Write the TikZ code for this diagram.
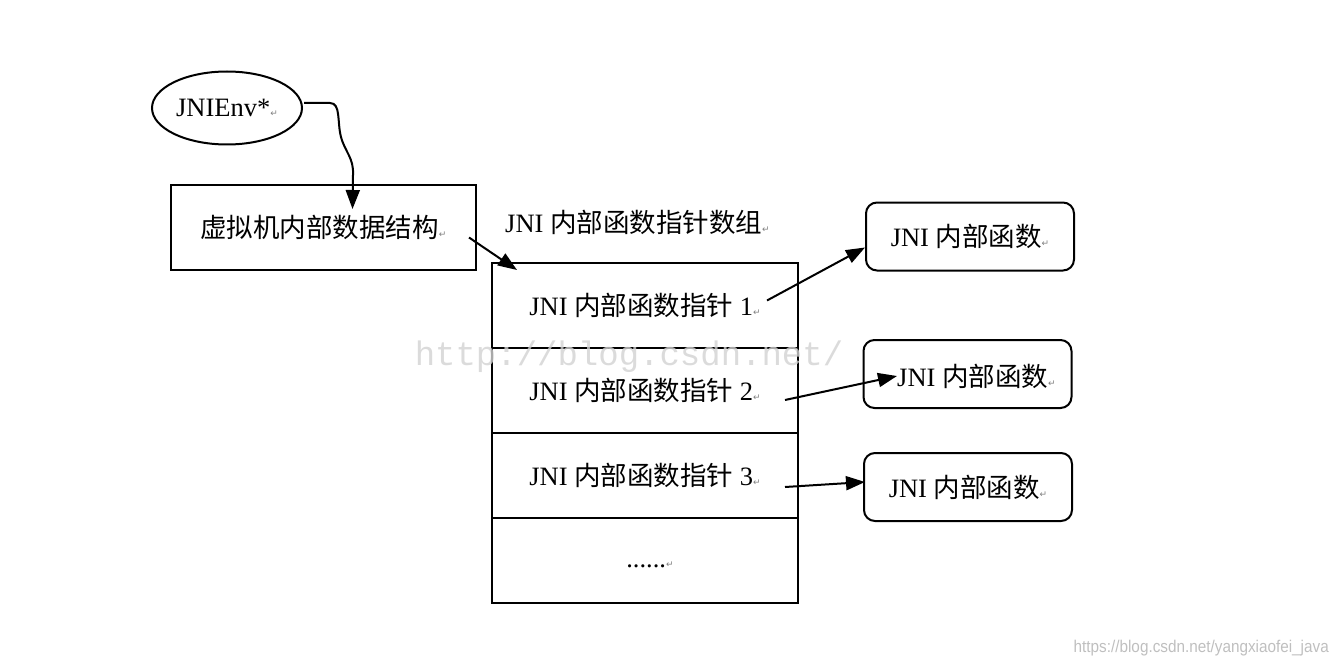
\documentclass[tikz,border=0pt]{standalone}
\usepackage{fontspec}
\setmainfont{Liberation Serif}
\newfontfamily\cjk{Noto Sans CJK SC}
\newfontfamily\symf{DejaVu Sans}
\newfontfamily\wmmono{Liberation Mono}
\newfontfamily\wmsans{Liberation Sans}
\usetikzlibrary{shapes.geometric,arrows.meta}
\newcommand{\zh}[1]{{\cjk #1}}
\newcommand{\rmark}{{\symf\fontsize{9}{9}\selectfont\color{gray}↵}}
\begin{document}
\begin{tikzpicture}[x=1pt,y=-1pt,
  every node/.style={font=\fontsize{26.5}{30}\selectfont},
  box/.style={draw, line width=2pt, inner sep=0pt},
  rowbox/.style={box, minimum width=306pt, minimum height=85pt},
  fnbox/.style={box, rounded corners=11pt, minimum width=208pt, minimum height=68pt},
  tip/.style={-{Triangle[length=19pt,width=14pt]}, line width=2pt}]
\useasboundingbox (0,0) rectangle (1342,666);

\node[ellipse, box, minimum width=150pt, minimum height=73pt] (env) at (227,108) {JNIEnv*\rmark};
\node[box, minimum width=305pt, minimum height=85pt] (vm) at (323.5,227.5) {\zh{虚拟机内部数据结构}\rmark};

\node[anchor=west, inner sep=0pt] (arrlabel) at (505,222) {JNI \zh{内部函数指针数组}\rmark};

\node[rowbox] (r1) at (645,305.5) {JNI \zh{内部函数指针} 1\rmark};
\node[rowbox] (r2) at (645,390.5) {JNI \zh{内部函数指针} 2\rmark};
\node[rowbox] (r3) at (645,475.5) {JNI \zh{内部函数指针} 3\rmark};
\node[rowbox] (r4) at (645,560.5) {};
\node (dots) at (650,565) {......\rmark};

\node[fnbox] (fA) at (970,236.5) {JNI \zh{内部函数}\rmark};
\node[fnbox] (fB) at (967.5,374) {};
\node[anchor=west, inner sep=0pt] (fBt) at (897,376) {JNI \zh{内部函数}\rmark};
\node[fnbox] (fC) at (968,487) {JNI \zh{内部函数}\rmark};

% connectors
\draw[tip] ([shift={(1,-5)}]env.east) -- (330,103)
  .. controls (341,103) and (337,122) .. (341,137)
  .. controls (345,152) and (354,158) .. (353,175)
  -- ([shift={(29,25)}]vm.north);
\draw[tip] ([shift={(-8,10)}]vm.east) -- ([shift={(26,8)}]r1.north west);
\draw[tip] ([shift={(122,-5)}]r1.center) -- ([shift={(0,11)}]fA.west);
\draw[tip] ([shift={(140,9.5)}]r2.center) -- (fBt.west);
\draw[tip] ([shift={(140,11.5)}]r3.center) -- ([shift={(2,-5)}]fC.west);

% watermarks
\node[text=gray!35, opacity=0.8, font=\wmmono\fontsize{34}{36}\selectfont] (wm1) at (629,357) {http://blog.csdn.net/};
\node[text=gray!50, anchor=east, font=\wmsans\fontsize{17}{19}\selectfont, xscale=0.9] (wm2) at (1332,648) {https://blog.csdn.net/yangxiaofei\_java};
\end{tikzpicture}
\end{document}
